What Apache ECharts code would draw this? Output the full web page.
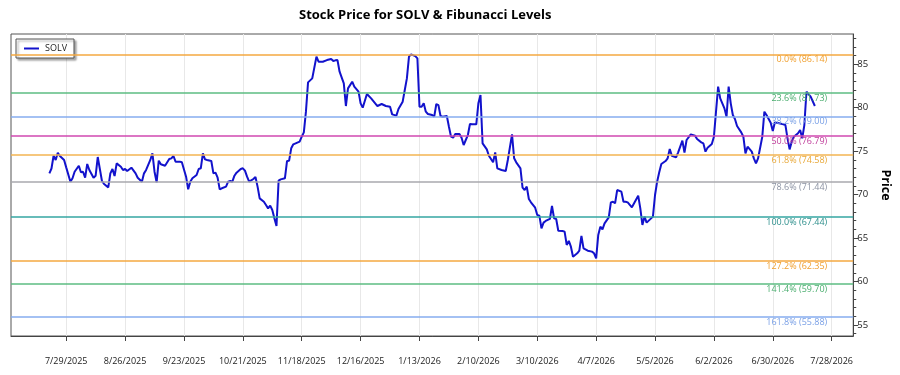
<!DOCTYPE html>
<html>
<head>
<meta charset="utf-8">
<title>SOLV Fibonacci</title>
<script src="https://cdn.jsdelivr.net/npm/echarts@6/dist/echarts.min.js"></script>
<style>
html,body{margin:0;padding:0;background:#fff;}
#chart{width:900px;height:375px;}
</style>
</head>
<body>
<div id="chart"></div>
<script>
// 价格数据 (读图估算)
var dates = [
'2025-07-21','2025-07-22','2025-07-23','2025-07-24','2025-07-25','2025-07-26','2025-07-28','2025-07-29','2025-07-31',
'2025-08-01','2025-08-02','2025-08-04','2025-08-05','2025-08-06','2025-08-07','2025-08-08','2025-08-09','2025-08-11',
'2025-08-12','2025-08-13','2025-08-15','2025-08-16','2025-08-18','2025-08-19','2025-08-20','2025-08-21','2025-08-22',
'2025-08-24','2025-08-25','2025-08-26','2025-08-27','2025-08-29','2025-08-31',
'2025-09-01','2025-09-03','2025-09-04','2025-09-05','2025-09-07','2025-09-08','2025-09-09','2025-09-10','2025-09-11',
'2025-09-12','2025-09-14','2025-09-16','2025-09-17','2025-09-18','2025-09-19','2025-09-21','2025-09-22','2025-09-24',
'2025-09-25','2025-09-26','2025-09-27','2025-09-29','2025-09-30',
'2025-10-01','2025-10-02','2025-10-03','2025-10-04','2025-10-06','2025-10-07','2025-10-08','2025-10-09','2025-10-10',
'2025-10-11','2025-10-13','2025-10-14','2025-10-15','2025-10-16','2025-10-17','2025-10-18','2025-10-20','2025-10-21',
'2025-10-22','2025-10-23','2025-10-24','2025-10-26','2025-10-27','2025-10-28','2025-10-29','2025-10-31',
'2025-11-01','2025-11-02','2025-11-03','2025-11-04','2025-11-05','2025-11-06','2025-11-07','2025-11-08','2025-11-10',
'2025-11-11','2025-11-12','2025-11-13','2025-11-14','2025-11-17','2025-11-18','2025-11-19','2025-11-20','2025-11-21',
'2025-11-23','2025-11-25','2025-11-26','2025-11-28','2025-11-30',
'2025-12-02','2025-12-03','2025-12-04','2025-12-05','2025-12-06','2025-12-08','2025-12-09','2025-12-10','2025-12-12',
'2025-12-13','2025-12-15','2025-12-16','2025-12-17','2025-12-19','2025-12-21','2025-12-24','2025-12-26','2025-12-28',
'2025-12-30','2025-12-31',
'2026-01-02','2026-01-03','2026-01-05','2026-01-06','2026-01-07','2026-01-08','2026-01-09','2026-01-11','2026-01-12',
'2026-01-13','2026-01-14','2026-01-15','2026-01-16','2026-01-17','2026-01-19','2026-01-20','2026-01-21','2026-01-22',
'2026-01-23','2026-01-24','2026-01-26','2026-01-27','2026-01-28','2026-01-29','2026-01-30',
'2026-02-01','2026-02-02','2026-02-03','2026-02-04','2026-02-05','2026-02-06','2026-02-07','2026-02-09','2026-02-10',
'2026-02-11','2026-02-12','2026-02-14','2026-02-15','2026-02-17','2026-02-18','2026-02-19','2026-02-21','2026-02-23',
'2026-02-24','2026-02-26','2026-02-27','2026-02-28',
'2026-03-02','2026-03-03','2026-03-04','2026-03-05','2026-03-06','2026-03-07','2026-03-09','2026-03-10','2026-03-11',
'2026-03-12','2026-03-13','2026-03-14','2026-03-16','2026-03-17','2026-03-18','2026-03-19','2026-03-20','2026-03-22',
'2026-03-23','2026-03-24','2026-03-25','2026-03-26','2026-03-27','2026-03-29','2026-03-30','2026-03-31',
'2026-04-01','2026-04-03','2026-04-05','2026-04-06','2026-04-07','2026-04-08','2026-04-09','2026-04-10','2026-04-11',
'2026-04-13','2026-04-14','2026-04-15','2026-04-16','2026-04-17','2026-04-19','2026-04-20','2026-04-21','2026-04-22',
'2026-04-24','2026-04-27','2026-04-28','2026-04-29','2026-04-30',
'2026-05-01','2026-05-04','2026-05-05','2026-05-06','2026-05-07','2026-05-08','2026-05-10','2026-05-11','2026-05-12',
'2026-05-13','2026-05-15','2026-05-16','2026-05-18','2026-05-19','2026-05-20','2026-05-22','2026-05-24','2026-05-25',
'2026-05-27','2026-05-28','2026-05-29','2026-05-30',
'2026-06-01','2026-06-02','2026-06-03','2026-06-04','2026-06-05','2026-06-07','2026-06-08','2026-06-09','2026-06-10',
'2026-06-11','2026-06-12','2026-06-13','2026-06-15','2026-06-16','2026-06-17','2026-06-18','2026-06-20','2026-06-21',
'2026-06-22','2026-06-23','2026-06-25','2026-06-26','2026-06-27','2026-06-29','2026-06-30',
'2026-07-01','2026-07-03','2026-07-05','2026-07-06','2026-07-07','2026-07-08','2026-07-09','2026-07-10','2026-07-12',
'2026-07-13','2026-07-14','2026-07-15','2026-07-16','2026-07-18','2026-07-20'
];
var prices = [
72.44,73.00,74.47,73.98,74.82,74.44,73.98,73.13,71.48,
71.87,72.63,73.32,72.56,72.63,71.94,73.52,72.83,71.94,
72.17,74.32,71.56,71.21,70.83,72.44,72.94,72.14,73.59,
73.21,72.83,72.94,72.71,73.09,72.44,
71.94,71.48,72.44,72.83,73.98,74.74,72.63,71.41,73.90,
73.48,73.32,74.09,74.17,74.44,73.79,73.79,73.71,72.06,
70.60,71.48,71.87,72.25,72.94,
73.02,74.74,74.05,73.98,73.86,72.44,72.52,71.94,70.60,
70.72,70.91,71.48,71.56,71.48,72.17,72.52,72.94,73.02,
72.75,72.06,71.48,71.79,72.02,70.91,69.56,69.18,
68.80,68.41,68.72,68.22,67.26,66.38,71.60,71.75,71.87,
73.86,73.90,75.32,75.78,76.09,76.66,77.16,79.54,82.91,
83.37,85.87,85.29,85.29,85.48,
85.60,85.37,85.45,85.48,84.14,82.80,80.19,82.22,82.99,
82.42,81.84,80.50,80.00,81.57,81.07,80.19,80.42,80.19,
80.11,79.23,
79.08,79.85,80.69,82.03,83.37,85.87,86.14,85.94,85.68,
80.11,80.11,80.50,79.54,79.27,79.16,78.96,80.42,80.30,
79.04,78.96,79.04,77.81,76.66,76.55,76.97,
76.97,76.55,75.70,76.28,76.85,78.12,78.08,78.08,80.50,
81.46,75.89,75.20,74.47,73.71,74.86,73.02,72.83,72.71,
73.98,76.93,74.17,73.71,
73.02,70.79,70.52,70.91,69.49,69.11,68.49,67.65,67.57,
66.11,66.77,66.96,67.19,68.68,67.26,67.19,65.84,65.81,
65.73,64.20,64.66,64.00,62.85,63.24,63.54,65.23,
63.81,63.54,63.43,63.24,62.66,65.35,66.30,66.00,66.69,
67.38,69.10,69.18,68.99,70.52,70.33,69.18,69.18,69.10,
68.53,69.87,68.41,66.50,67.46,
66.77,67.46,69.95,71.48,72.56,73.52,73.86,74.17,75.24,
74.47,74.28,74.86,76.20,74.82,76.28,76.93,76.78,76.39,
76.01,75.89,74.94,75.40,
75.82,76.66,79.54,82.42,81.07,79.92,78.96,82.42,80.50,
79.16,78.69,77.89,77.16,76.66,74.74,75.51,74.94,74.17,
73.59,74.17,76.66,79.54,79.16,78.27,77.31,
78.31,78.20,78.08,78.00,76.47,75.20,76.09,76.66,77.05,
77.43,76.47,78.00,81.84,81.27,80.19
];
var tickLabels = ['7/29/2025','8/26/2025','9/23/2025','10/21/2025','11/18/2025','12/16/2025','1/13/2026',
	'2/10/2026','3/10/2026','4/7/2026','5/5/2026','6/2/2026','6/30/2026','7/28/2026'];
var priceTicks = [55,60,65,70,75,80,85];

// 斐波那契水平
var fibPcts = ['0.0%','23.6%','38.2%','50.0%','61.8%','78.6%','100.0%','127.2%','141.4%','161.8%'];
var fibValues = [86.14,81.73,79.00,76.79,74.58,71.44,67.44,62.35,59.70,55.88];
var fibColors = ['#f5a840','#5cbc82','#86acef','#d048b0','#f3b452','#a8a8ae','#35a6a2','#f5a840','#5cbc82','#86acef'];
var fibTextColors = ['#f0a030','#4cae70','#7aa0e6','#c0409c','#e8a838','#8c93a3','#2e8f8c','#f0a030','#4cae70','#7aa0e6'];

var yMin = 53.72, yMax = 88.48;

// 7/29/2025 -> 时间戳
function mdyTime(s){
	var p = s.split('/');
	return new Date(+p[2], +p[0]-1, +p[1]).getTime();
}
// 2025-07-29 -> 时间戳
function isoTime(s){
	var p = s.split('-');
	return new Date(+p[0], +p[1]-1, +p[2]).getTime();
}

drawChart();

function drawChart(){
	var myChart = echarts.init(document.getElementById('chart'));
	var font = 'Open Sans, Noto Sans, sans-serif';

	var lineData = [];
	for(var i=0;i<dates.length;i++){
		lineData.push([isoTime(dates[i]), prices[i]]);
	}
	var tickTimes = [];
	for(var i=0;i<tickLabels.length;i++){
		tickTimes.push(mdyTime(tickLabels[i]));
	}
	var minorTicks = [];
	for(var v=Math.ceil(yMin);v<=Math.floor(yMax);v++){
		if(v%5!=0) minorTicks.push(v);
	}

	var series = [];
	// 每条斐波那契线单独一个系列
	for(var i=0;i<fibValues.length;i++){
		series.push({
			name: 'fib'+i,
			type: 'line',
			data: [],
			z: 1,
			color: fibColors[i],
			markLine: {
				silent: true,
				symbol: 'none',
				animation: false,
				lineStyle: {color: fibColors[i], type: 'solid', width: 1.5, opacity: 1},
				label: {
					show: true,
					position: 'insideEndBottom',
					distance: [26, 1],
					fontSize: 9,
					fontFamily: font,
					color: fibTextColors[i],
					formatter: fibPcts[i]+' ('+fibValues[i].toFixed(2)+')'
				},
				emphasis: {disabled: true},
				data: [{yAxis: fibValues[i]}]
			}
		});
	}
	series.push({
		name: 'SOLV',
		type: 'line',
		data: lineData,
		z: 3,
		symbol: 'none',
		showSymbol: false,
		lineStyle: {color: '#1212cc', width: 2},
		itemStyle: {color: '#1212cc'}
	});

	var option = {
		animation: false,
		textStyle: {fontFamily: font},
		title: {
			text: 'Stock Price for SOLV & Fibunacci Levels',
			left: 294,
			top: 4,
			textStyle: {fontSize: 13, fontWeight: 'bold', color: '#000', fontFamily: font}
		},
		legend: {
			data: [{name: 'SOLV', icon: 'rect'}],
			left: 16,
			top: 39,
			orient: 'vertical',
			padding: [5, 7, 5, 8],
			itemWidth: 15,
			itemHeight: 2,
			itemGap: 4,
			backgroundColor: '#fff',
			borderColor: '#555',
			borderWidth: 1,
			shadowColor: 'rgba(0,0,0,0.35)',
			shadowBlur: 2,
			shadowOffsetX: 2,
			shadowOffsetY: 2,
			textStyle: {fontSize: 9, color: '#222', fontFamily: font, padding: [0, 0, 0, 1]}
		},
		grid: {
			left: 11, right: 37, top: 34, bottom: 39,
			show: true, borderColor: '#555', borderWidth: 1
		},
		xAxis: {
			type: 'value',
			min: new Date(2025, 6, 2, 18).getTime(),
			max: new Date(2026, 7, 7, 6).getTime(),
			axisLine: {lineStyle: {color: '#444'}},
			axisTick: {show: true, length: 5, customValues: tickTimes, lineStyle: {color: '#444'}},
			axisLabel: {
				customValues: tickTimes,
				margin: 21,
				fontSize: 9,
				color: '#222',
				formatter: function(val){
					var d = new Date(val);
					return (d.getMonth()+1)+'/'+d.getDate()+'/'+d.getFullYear();
				}
			},
			splitLine: {show: true, lineStyle: {color: '#e8e8e8', width: 1}}
		},
		yAxis: [
			{
				type: 'value',
				position: 'right',
				min: yMin,
				max: yMax,
				name: 'Price',
				nameLocation: 'middle',
				nameRotate: -90,
				nameGap: 25,
				nameTextStyle: {fontSize: 12.5, fontWeight: 'bold', color: '#000'},
				axisLine: {show: true, lineStyle: {color: '#444'}},
				axisTick: {show: true, length: 5, customValues: priceTicks, lineStyle: {color: '#444'}},
				axisLabel: {customValues: priceTicks, margin: 4, fontSize: 9.5, color: '#222'},
				splitLine: {show: false}
			},
			{
				type: 'value',
				position: 'right',
				min: yMin,
				max: yMax,
				axisLine: {show: false},
				axisTick: {show: true, length: 3, customValues: minorTicks, lineStyle: {color: '#444'}},
				axisLabel: {show: false},
				splitLine: {show: false}
			}
		],
		series: series
	};
	myChart.setOption(option);
}
</script>
</body>
</html>
